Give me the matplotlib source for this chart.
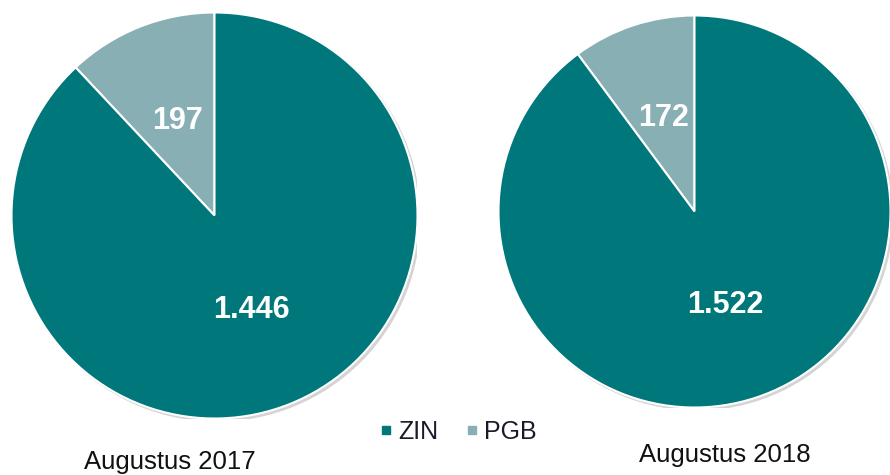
import matplotlib.pyplot as plt
from matplotlib.patches import Circle
from matplotlib.lines import Line2D

plt.rcParams['font.family'] = ['Liberation Sans', 'DejaVu Sans']

# data
categories = ["ZIN", "PGB"]
zin_2017 = 1446
pgb_2017 = 197
zin_2018 = 1522
pgb_2018 = 172
titles = ["Augustus 2017", "Augustus 2018"]

colors = {"ZIN": "#00777a", "PGB": "#88b0b4"}

W, H = 890, 475
fig = plt.figure(figsize=(W / 100, H / 100), dpi=100)


def fmt(v):
    # dutch thousands separator
    return "{:,}".format(v).replace(",", ".")


def draw_pie(cx, cy, r, pgb, zin):
    # cx, cy, r in pixels (y from top)
    ax = fig.add_axes([(cx - r) / W, (H - cy - r) / H, 2 * r / W, 2 * r / H])
    vals = [pgb, zin]
    # light shadow behind the pie
    ax.add_patch(Circle((0.012, -0.012), 1.0, color="#d4d4d4", zorder=0))
    wedges, texts = ax.pie(
        vals,
        colors=[colors["PGB"], colors["ZIN"]],
        startangle=90,
        counterclock=True,
        labels=[fmt(v) for v in vals],
        labeldistance=0.5,
        wedgeprops=dict(edgecolor="white", linewidth=1.5),
        radius=1.0,
    )
    for t in texts:
        t.set_color("white")
        t.set_fontsize(22)
        t.set_fontweight("bold")
        t.set_ha("center")
        t.set_va("center")
    ax.set_xlim(-1.0, 1.0)
    ax.set_ylim(-1.0, 1.0)
    ax.set_aspect("equal")
    ax.axis("off")
    return ax


draw_pie(214.5, 215.5, 203, pgb_2017, zin_2017)
draw_pie(694.5, 211.5, 196, pgb_2018, zin_2018)

fig.text(170 / W, 1 - 462 / H, titles[0], ha="center", va="center",
         fontsize=18.5, color="#111111")
fig.text(725 / W, 1 - 455 / H, titles[1], ha="center", va="center",
         fontsize=18.5, color="#111111")

handles = [Line2D([], [], marker="s", linestyle="", markersize=6,
                  color=colors[c]) for c in categories]
fig.legend(handles, categories, loc="center", bbox_to_anchor=(455 / W, 1 - 432 / H),
           ncol=2, frameon=False, fontsize=18, handletextpad=0.0,
           columnspacing=0.85, handlelength=1.0, labelcolor="#1a1a2a")

fig.savefig("out.png", dpi=100)
